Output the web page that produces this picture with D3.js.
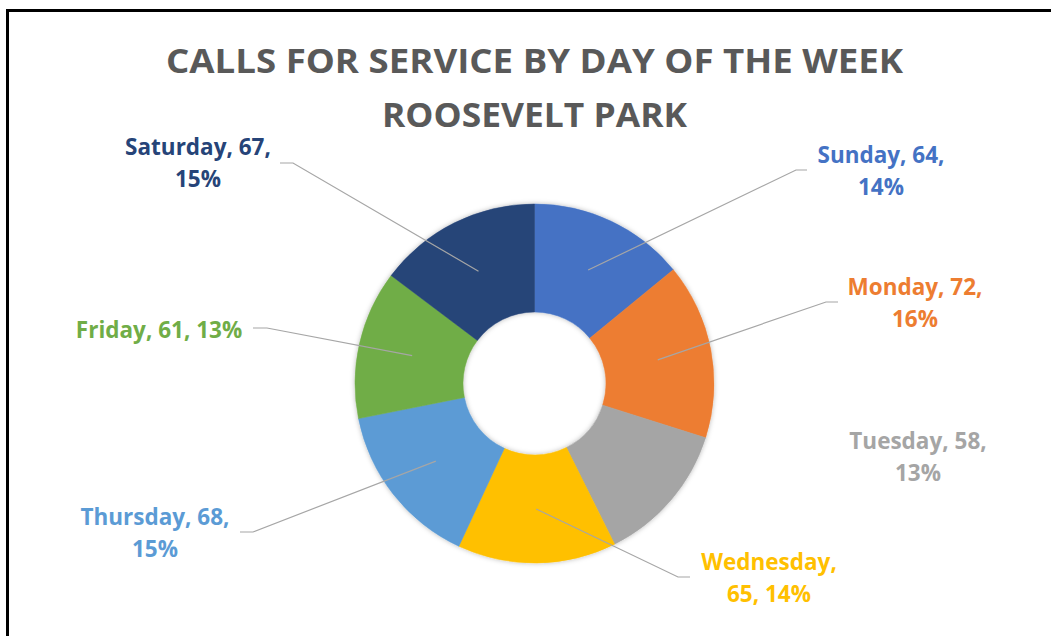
<!DOCTYPE html>
<html>
<head>
<meta charset="utf-8">
<script src="https://cdn.jsdelivr.net/npm/d3@7"></script>
<style>
  html, body { margin: 0; padding: 0; background: #fff; }
  svg { display: block; }
  text { font-family: "Open Sans", Lato, sans-serif; font-weight: 700; }
</style>
</head>
<body>
<svg id="chart" width="1051" height="636"></svg>
<script>
// Calls for service per weekday
const days   = ["Sunday", "Monday", "Tuesday", "Wednesday", "Thursday", "Friday", "Saturday"];
const calls  = [64, 72, 58, 65, 68, 61, 67];
const colors = ["#4472C4", "#ED7D31", "#A5A5A5", "#FFC000", "#5B9BD5", "#70AD47", "#264478"];
const titleLines = ["CALLS FOR SERVICE BY DAY OF THE WEEK", "ROOSEVELT PARK"];

// Label placement: text centre x, first baseline y, how many parts go on line one,
// and the leader elbow / end points (null where no leader is drawn)
const labelLayout = [
  { x: 881, y: 163, brk: 2, leader: [[796, 170], [807, 170]] },
  { x: 915, y: 295, brk: 2, leader: [[826, 302], [838, 302]] },
  { x: 918, y: 449, brk: 2, leader: null },
  { x: 769, y: 570, brk: 1, leader: [[678, 577], [690, 577]] },
  { x: 155, y: 525, brk: 2, leader: [[253, 532], [240, 532]] },
  { x: 159, y: 338, brk: 3, leader: [[267, 328], [253, 328]] },
  { x: 198, y: 155, brk: 2, leader: [[293, 163], [280, 163]] }
];

const svg = d3.select("#chart");
const W = 1051, H = 636;
const cx = 534.5, cy = 383.5, rOuter = 179.5, rInner = 71.5;

// soft shadow around the ring
const defs = svg.append("defs");
const f = defs.append("filter").attr("id", "ringShadow")
  .attr("x", "-20%").attr("y", "-20%").attr("width", "140%").attr("height", "140%");
f.append("feDropShadow").attr("dx", 0).attr("dy", 0).attr("stdDeviation", 2.5)
  .attr("flood-color", "#000").attr("flood-opacity", 0.28);

// frame
svg.append("rect")
  .attr("x", 7.5).attr("y", 10.5).attr("width", W + 20).attr("height", H + 20)
  .attr("fill", "#fff").attr("stroke", "#000").attr("stroke-width", 3);

// title, fitted to its line widths
const titleWidths = [737, 305];
const title = svg.append("g").attr("fill", "#595959").attr("text-anchor", "middle");
titleLines.forEach((t, i) => {
  const el = title.append("text")
    .attr("x", cx).attr("y", 73 + i * 54)
    .attr("font-size", 34)
    .text(t);
  const w = el.node().getComputedTextLength();
  if (Math.abs(w - titleWidths[i]) > 4) {
    el.attr("textLength", titleWidths[i]).attr("lengthAdjust", "spacingAndGlyphs");
  }
});

const total = d3.sum(calls);
const rows = days.map((d, i) => ({ day: d, value: calls[i], color: colors[i], lay: labelLayout[i] }));

const pie = d3.pie().sort(null).value(d => d.value);
const arc = d3.arc().innerRadius(rInner).outerRadius(rOuter);
const arcs = pie(rows);

const ring = svg.append("g").attr("transform", `translate(${cx},${cy})`);
ring.append("g").attr("filter", "url(#ringShadow)")
  .selectAll("path").data(arcs).join("path")
  .attr("d", arc)
  .attr("fill", d => d.data.color)
  .attr("stroke", d => d.data.color)
  .attr("stroke-width", 0.5);

// leader lines from each slice centroid to its label
const line = d3.line();
svg.append("g").attr("fill", "none").attr("stroke", "#A6A6A6").attr("stroke-width", 1.2)
  .selectAll("path").data(arcs.filter(a => a.data.lay.leader)).join("path")
  .attr("d", a => {
    const c = arc.centroid(a);
    return line([[cx + c[0], cy + c[1]], ...a.data.lay.leader]);
  });

// data labels: "Day, value, pct%"
const labels = svg.append("g").attr("text-anchor", "middle");
arcs.forEach(a => {
  const d = a.data;
  const pct = Math.round(d.value / total * 100) + "%";
  const parts = [d.day, String(d.value), pct];
  const l1 = parts.slice(0, d.lay.brk).join(", ") + (d.lay.brk < 3 ? "," : "");
  const l2 = parts.slice(d.lay.brk).join(", ");
  const t = labels.append("text").attr("fill", d.color).attr("font-size", 22.5);
  t.append("tspan").attr("x", d.lay.x).attr("y", d.lay.y).text(l1);
  if (l2) t.append("tspan").attr("x", d.lay.x).attr("y", d.lay.y + 32).text(l2);
});
</script>
</body>
</html>
